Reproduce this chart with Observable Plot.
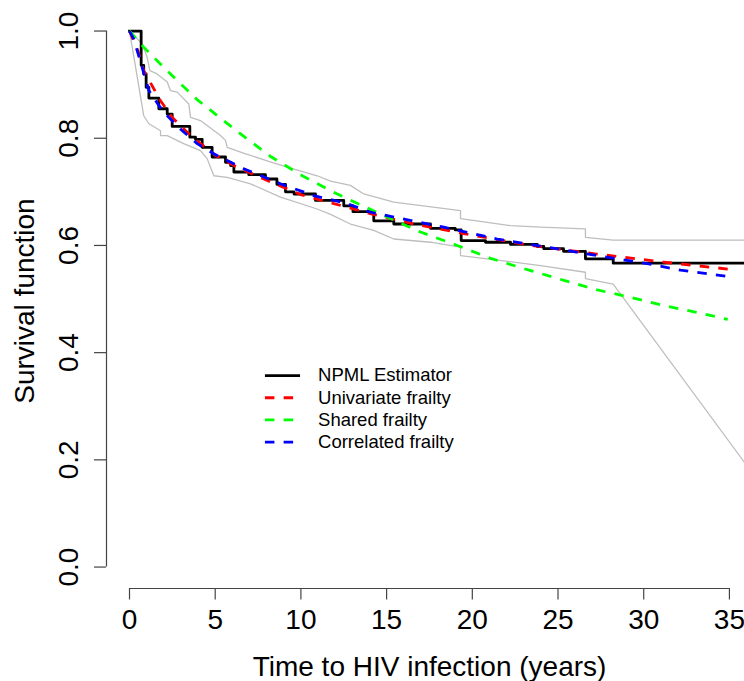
<!DOCTYPE html>
<html>
<head>
<meta charset="utf-8">
<script src="https://cdn.jsdelivr.net/npm/d3@7"></script>
<script src="https://cdn.jsdelivr.net/npm/@observablehq/plot@0.6"></script>
<style>
  html, body { margin: 0; padding: 0; background: #fff; overflow: hidden; }
</style>
</head>
<body>
<div id="chart"></div>
<script>
// NPML estimator of the survival function (right-continuous step function)
const npmlTime = [0, 0.68, 0.83, 0.97, 1.13, 1.71, 2.2, 2.49, 3.52, 3.85, 4.24, 4.82, 5.6, 5.9, 6.09, 6.96, 7.93, 8.6, 9.1, 9.6, 10.85, 12.5, 13.04, 14.25, 15.42, 17.56, 19.0, 19.35, 20.77, 22.23, 23.79, 24.17, 25.32, 26.6, 28.22, 36];
const npmlSurv = [1, 0.936, 0.920, 0.895, 0.875, 0.855, 0.845, 0.822, 0.802, 0.798, 0.783, 0.765, 0.755, 0.749, 0.737, 0.732, 0.724, 0.714, 0.700, 0.696, 0.684, 0.674, 0.663, 0.646, 0.640, 0.632, 0.629, 0.609, 0.606, 0.602, 0.598, 0.594, 0.589, 0.575, 0.567, 0.567];

// Pointwise confidence bounds around the NPML estimator
const upperTime = [0, 0.74, 1.03, 1.19, 1.61, 2.2, 2.39, 2.78, 3.46, 3.56, 4.14, 5.31, 5.6, 5.7, 6.77, 8.03, 9.2, 10.95, 11.73, 12.89, 13.67, 15.42, 19.31, 19.31, 20.87, 22.23, 23.98, 26.6, 26.6, 28.22, 36];
const upperSurv = [1, 0.976, 0.951, 0.926, 0.920, 0.905, 0.889, 0.886, 0.864, 0.839, 0.833, 0.805, 0.796, 0.783, 0.771, 0.758, 0.746, 0.730, 0.720, 0.712, 0.696, 0.681, 0.665, 0.650, 0.643, 0.637, 0.634, 0.631, 0.615, 0.610, 0.610];
const lowerTime = [0, 0.83, 1.13, 1.81, 1.81, 2.2, 3.16, 4.14, 4.53, 4.92, 5.7, 7.06, 8.81, 10.95, 11.73, 12.89, 14.25, 15.42, 17.56, 19.31, 19.31, 20.87, 23.98, 26.6, 26.6, 28.22, 36];
const lowerSurv = [1, 0.842, 0.827, 0.814, 0.805, 0.805, 0.790, 0.777, 0.762, 0.730, 0.727, 0.715, 0.690, 0.668, 0.658, 0.640, 0.628, 0.612, 0.606, 0.597, 0.581, 0.575, 0.5625, 0.550, 0.538, 0.528, 0.19];

// Fitted survival curves from the three frailty models
const univTime = [0, 0.25, 0.5, 0.83, 1.32, 1.81, 2.49, 3.56, 5.02, 6.28, 7.84, 9.98, 11.92, 14.1, 16.6, 19.5, 23.4, 27.25, 31.15, 34.9];
const univSurv = [1, 0.981, 0.962, 0.926, 0.898, 0.870, 0.839, 0.805, 0.768, 0.746, 0.724, 0.695, 0.678, 0.659, 0.640, 0.622, 0.600, 0.584, 0.569, 0.556];

const sharedTime = [0, 0.83, 2.29, 3.95, 5.6, 6.48, 8.23, 10.08, 12.12, 15.03, 16.98, 19.12, 21.06, 23.4, 25.34, 27.29, 28.84, 31.17, 33.12, 34.9];
const sharedSurv = [1, 0.970, 0.923, 0.872, 0.830, 0.808, 0.766, 0.730, 0.696, 0.653, 0.625, 0.600, 0.576, 0.553, 0.535, 0.517, 0.506, 0.488, 0.475, 0.462];

const corrTime = [0, 0.25, 0.5, 0.74, 1.13, 1.71, 2.29, 2.98, 3.95, 4.92, 6.67, 8.81, 10.75, 12.7, 14.06, 18.34, 21.45, 24.37, 27.29, 30.2, 32.15, 34.9];
const corrSurv = [1, 0.985, 0.958, 0.932, 0.889, 0.861, 0.839, 0.817, 0.790, 0.771, 0.743, 0.715, 0.693, 0.678, 0.662, 0.634, 0.612, 0.597, 0.581, 0.566, 0.554, 0.542];

// Axis ticks
const xTicks = [0, 5, 10, 15, 20, 25, 30, 35];
const yTicks = [0, 0.2, 0.4, 0.6, 0.8, 1.0];

// Legend entries
const legendLabels = ["NPML Estimator", "Univariate frailty", "Shared frailty", "Correlated frailty"];
const legendColors = ["black", "#ff0000", "#00ff00", "#0000ff"];
const legendDashed = [false, true, true, true];

const rows = (ts, ss) => ts.map((t, i) => ({t, s: ss[i]}));

const font = '"Liberation Sans", Arial, Helvetica, sans-serif';
const axisColor = "#444";
const dash = "9.5,9.2";
const xDomain = [-1.342, 35.88];
const yDomain = [-0.04, 1.04];

// legend placement in data units
const legLineX = [7.93, 9.98];
const legTextX = 11.0;
const legTopY = 0.3573;
const legStep = 0.0414;
const legRows = legendLabels.map((label, i) => ({
  label, color: legendColors[i], dashed: legendDashed[i], y: legTopY - i * legStep
}));

const curveOpts = {x: "t", y: "s", strokeWidth: 2.8, strokeLinecap: "butt", clip: true};

const chart = Plot.plot({
  width: 744,
  height: 681,
  marginLeft: 106,
  marginRight: 0,
  marginTop: 9.1,
  marginBottom: 93,
  style: {fontFamily: font, background: "white", color: "black", overflow: "hidden"},
  x: {domain: xDomain},
  y: {domain: yDomain},
  marks: [
    Plot.line(rows(upperTime, upperSurv), {x: "t", y: "s", stroke: "#bebebe", strokeWidth: 1.3, clip: true}),
    Plot.line(rows(lowerTime, lowerSurv), {x: "t", y: "s", stroke: "#bebebe", strokeWidth: 1.3, clip: true}),
    Plot.line(rows(npmlTime, npmlSurv), {...curveOpts, curve: "step-after", stroke: "black", strokeLinecap: "square"}),
    Plot.line(rows(univTime, univSurv), {...curveOpts, stroke: "#ff0000", strokeDasharray: dash}),
    Plot.line(rows(sharedTime, sharedSurv), {...curveOpts, stroke: "#00ff00", strokeDasharray: dash}),
    Plot.line(rows(corrTime, corrSurv), {...curveOpts, stroke: "#0000ff", strokeDasharray: dash}),

    // axis lines span the first to last tick
    Plot.ruleY([yDomain[0]], {x1: xTicks[0], x2: xTicks[xTicks.length - 1], stroke: axisColor, strokeWidth: 1.2}),
    Plot.ruleX([xDomain[0]], {y1: yTicks[0], y2: yTicks[yTicks.length - 1], stroke: axisColor, strokeWidth: 1.2}),
    Plot.axisX(xTicks, {tickSize: 11.5, tickPadding: 9.5, fontSize: 28, stroke: axisColor, strokeWidth: 1.2, label: null, tickFormat: d3.format("d")}),
    Plot.axisY(yTicks, {tickSize: 12, tickPadding: 17, tickRotate: -90, fontSize: 28, stroke: axisColor, strokeWidth: 1.2, label: null, tickFormat: d3.format(".1f")}),

    // axis titles
    Plot.text(["Time to HIV infection (years)"], {frameAnchor: "bottom", dx: 4, dy: 87, textAnchor: "middle", lineAnchor: "bottom", fontSize: 28}),
    Plot.text(["Survival function"], {frameAnchor: "left", dx: -81, dy: 2, rotate: -90, textAnchor: "middle", lineAnchor: "middle", fontSize: 28}),

    // legend
    ...legRows.map(r => Plot.ruleY([r], {
      y: "y", x1: legLineX[0], x2: legLineX[1], stroke: r.color, strokeWidth: 2.8,
      strokeLinecap: "butt", strokeDasharray: r.dashed ? dash : null
    })),
    Plot.text(legRows, {x: legTextX, y: "y", text: "label", textAnchor: "start", lineAnchor: "middle", fontSize: 18.5})
  ]
});

document.getElementById("chart").appendChild(chart);
</script>
</body>
</html>
